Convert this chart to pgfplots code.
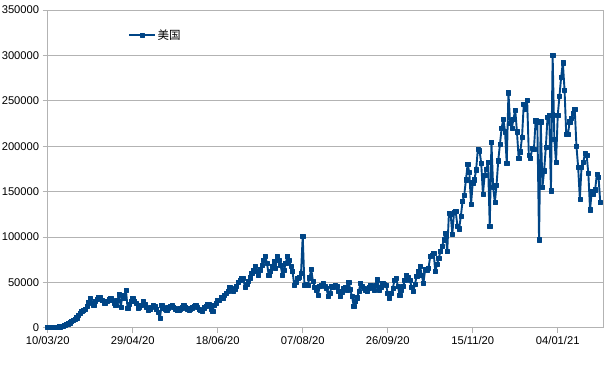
\documentclass[border=0pt]{standalone}
\usepackage{fontspec}
\setmainfont{Liberation Sans}
\newfontfamily\cjk{Noto Sans CJK SC}
\usepackage{pgfplots}
\usepackage{pgfplotstable}
\pgfplotsset{compat=1.18}
\definecolor{ser}{HTML}{004586}
\definecolor{gridc}{HTML}{B3B3B3}
\pgfplotstableread{
d v
0 200
1 300
2 400
3 500
4 600
5 700
6 900
7 1200
8 1500
9 1900
10 2500
11 3500
12 4500
13 5500
14 6800
15 8000
16 9300
17 11000
18 13500
19 16000
20 18000
21 19000
22 20000
23 24000
24 28000
25 32500
26 27000
27 25000
28 29000
29 31000
30 34000
31 33000
32 30000
33 27000
34 27500
35 29000
36 31000
37 32500
38 30000
39 27000
40 25000
41 30000
42 37000
43 23000
44 36000
45 33000
46 41700
47 21500
48 26000
49 29000
50 32500
51 29000
52 27000
53 21500
54 23000
55 25000
56 28800
57 26000
58 23000
59 19600
60 21000
61 23000
62 25000
63 24000
64 20000
65 17000
66 10400
67 25000
68 22000
69 21000
70 19600
71 22000
72 24000
73 25000
74 23000
75 21000
76 19000
77 19600
78 21000
79 22000
80 25000
81 23000
82 21000
83 19600
84 21000
85 22000
86 24000
87 25000
88 23000
89 20000
90 19000
91 18800
92 22000
93 24000
94 26000
95 25500
96 21000
97 18500
98 25000
99 27000
100 30000
101 30600
102 34000
103 32500
104 36000
105 38000
106 40000
107 45000
108 43000
109 40000
110 42000
111 46000
112 50000
113 52700
114 54600
115 54600
116 45000
117 48000
118 51000
119 55000
120 60000
121 63000
122 67500
123 62000
124 58000
125 64000
126 69000
127 74000
128 78500
129 71000
130 58000
131 62000
132 68000
133 73000
134 65700
135 78500
136 74000
137 69000
138 58000
139 63000
140 71000
141 78500
142 74000
143 68000
144 62000
145 47000
146 50000
147 54600
148 56000
149 60000
150 101000
151 47000
152 48000
153 47000
154 55000
155 64500
156 51000
157 45000
158 41700
159 36000
160 45400
161 47000
162 49000
163 46000
164 43600
165 34300
166 38000
167 45400
168 45000
169 47000
170 46000
171 40000
172 34300
173 39000
174 43600
175 44000
176 41700
177 49800
178 42000
179 34300
180 24000
181 28800
182 33000
183 39800
184 49000
185 46000
186 43600
187 41000
188 39800
189 44000
190 47200
191 45000
192 41700
193 47000
194 52800
195 41700
196 45000
197 49000
198 48000
199 47200
200 38000
201 32500
202 38000
203 43600
204 52700
205 54600
206 45400
207 36000
208 41000
209 45400
210 52000
211 58000
212 56000
213 52700
214 45000
215 39800
216 48000
217 56400
218 62000
219 67500
220 58000
221 49000
222 63800
223 64000
224 65700
225 78500
226 80000
227 82300
228 62000
229 70000
230 76700
231 84000
232 90000
233 97000
234 104400
235 84000
236 126500
237 125000
238 103000
239 127000
240 128000
241 111700
242 109000
243 122800
244 139000
245 146000
246 163000
247 180000
248 171000
249 135700
250 159700
251 163000
252 174000
253 196500
254 195000
255 181000
256 147000
257 168000
258 175000
259 182000
260 112000
261 204000
262 155000
263 138000
264 157000
265 184000
266 202000
267 220000
268 230000
269 216000
270 181000
271 259000
272 225000
273 220000
274 230000
275 240000
276 216000
277 187000
278 194000
279 210000
280 246000
281 241000
282 251000
283 190000
284 187000
285 198000
286 197000
287 228000
288 226000
289 97000
290 227000
291 155000
292 173000
293 199000
294 232000
295 234000
296 151000
297 300000
298 208000
299 182000
300 234000
301 255000
302 276000
303 292000
304 262000
305 213000
306 213000
307 227000
308 231000
309 236000
310 241000
311 200000
312 177000
313 142000
314 177000
315 182000
316 192000
317 190000
318 170000
319 130000
320 150000
321 147000
322 152000
323 169000
324 166000
325 138000
}\usdata
\begin{document}
\begin{tikzpicture}[x=1pt,y=1pt]
\useasboundingbox (0,0) rectangle (615,365);
\begin{axis}[
  at={(47.7pt,37.3pt)}, anchor=south west,
  scale only axis, width=555.6pt, height=317.7pt,
  xmin=0, xmax=326.8, ymin=0, ymax=350000,
  xtick={0,50,...,300},
  xticklabels={10/03/20,29/04/20,18/06/20,07/08/20,26/09/20,15/11/20,04/01/21},
  ytick={0,50000,...,350000},
  scaled y ticks=false,
  yticklabel style={/pgf/number format/1000 sep={}, /pgf/number format/fixed},
  /pgf/number format/assume math mode=true,
  tick label style={font=\fontsize{11.2}{13}\selectfont, text=black},
  ymajorgrids, grid style={gridc, line width=0.8pt},
  axis line style={gridc, line width=0.8pt},
  tick style={gridc, line width=0.8pt},
  tick align=outside, major tick length=5pt,
  xtick pos=bottom, ytick pos=left,
  legend style={draw=none, fill=none, inner sep=0pt, at={(0.1445,0.9213)}, anchor=west,
    font=\fontsize{11.5}{13}\selectfont},
  legend image code/.code={\draw[mark repeat=2,mark phase=2] plot coordinates {(0pt,0pt) (12.8pt,0pt) (25.6pt,0pt)};},
]
\addplot[ser, line width=1.9pt, line join=round, mark=square*, mark size=2.1pt,
  mark options={solid, fill=ser, draw=ser, line width=0.4pt}] table[x=d, y=v] {\usdata};
\addlegendentry{\cjk 美国}
\end{axis}
\end{tikzpicture}
\end{document}
